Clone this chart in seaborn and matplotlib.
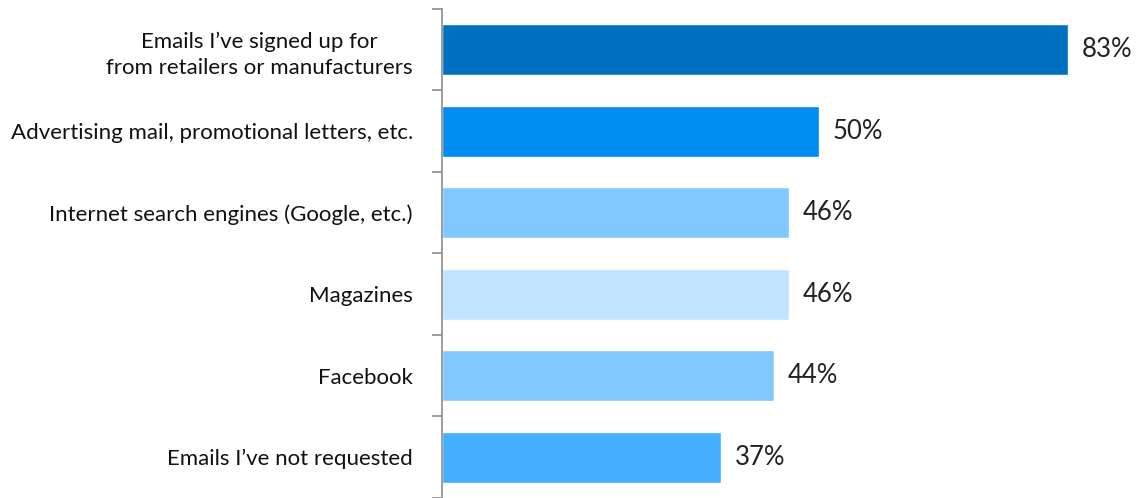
import matplotlib
matplotlib.use("Agg")
import matplotlib.pyplot as plt
from matplotlib.ticker import FixedLocator
import seaborn as sns
import pandas as pd

categories = [
    "Emails I\u2019ve signed up for\nfrom retailers or manufacturers",
    "Advertising mail, promotional letters, etc.",
    "Internet search engines (Google, etc.)",
    "Magazines",
    "Facebook",
    "Emails I\u2019ve not requested",
]
values = [83, 50, 46, 46, 44, 37]
bar_colors = ["#0070C0", "#008CF0", "#80C8FF", "#C0E4FF", "#80C8FF", "#44B0FF"]

sns.set_theme(style="white")
plt.rcParams["font.family"] = ["Lato", "DejaVu Sans"]

df = pd.DataFrame({"category": categories, "value": values})

fig = plt.figure(figsize=(11.42, 4.98), dpi=100)
ax = fig.add_axes([442 / 1142, 0.0, 700 / 1142, 1 - 9 / 498])

sns.barplot(data=df, x="value", y="category", hue="category",
            palette=bar_colors, orient="h", width=0.62, legend=False,
            saturation=1, ax=ax)

ax.set_xlim(0, 92.8)
ax.set_ylim(len(categories) - 0.5, -0.5)

for i, v in enumerate(values):
    ax.text(v + 1.8, i, f"{v}%", va="center", ha="left",
            fontsize=18.5, color="#222222")

for s in ["top", "right", "bottom"]:
    ax.spines[s].set_visible(False)
ax.spines["left"].set_color("#8c8c8c")
ax.spines["left"].set_linewidth(1.2)

ax.set_xticks([])
ax.set_xlabel("")
ax.set_ylabel("")
ax.tick_params(axis="y", which="major", length=0, pad=21, labelsize=16,
               labelcolor="#111111")
for lbl in ax.get_yticklabels():
    lbl.set_multialignment("center")
    lbl.set_linespacing(1.35)
ax.yaxis.set_minor_locator(FixedLocator([i - 0.5 for i in range(len(categories) + 1)]))
ax.tick_params(axis="y", which="minor", left=True, length=7, width=1.2,
               color="#8c8c8c")

fig.savefig("out.png", dpi=100)
